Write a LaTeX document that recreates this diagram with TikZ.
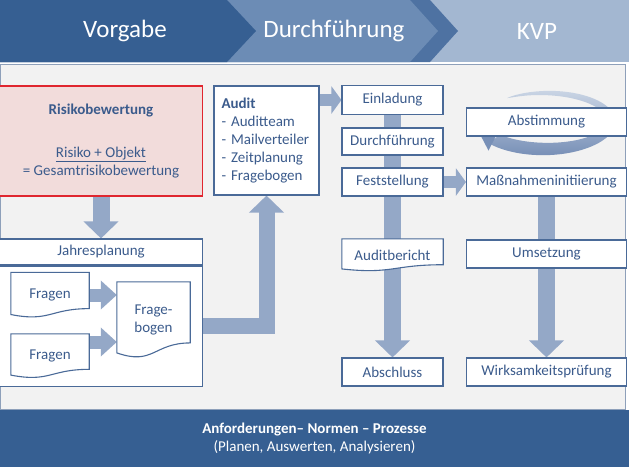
\documentclass[tikz,border=0pt]{standalone}
\usepackage{fontspec}
\setmainfont{Carlito}
\usetikzlibrary{
    arrows.meta,
    positioning,
    calc
}
\definecolor{headdark}{HTML}{365F92}
\definecolor{headmid}{HTML}{6C8CB5}
\definecolor{headband}{HTML}{4E72A2}
\definecolor{headlight}{HTML}{A3B7D1}
\definecolor{bggray}{HTML}{F2F2F2}
\definecolor{framecol}{HTML}{8EA0BA}
\definecolor{boxline}{HTML}{4A6A98}
\definecolor{textblue}{HTML}{3B5B8C}
\definecolor{arrowfill}{HTML}{94A8C7}
\definecolor{arclight}{HTML}{C9D4E4}
\definecolor{arcdark}{HTML}{7890B7}
\definecolor{riskfill}{HTML}{F2DCDB}
\definecolor{riskline}{HTML}{E0262F}

\pgfdeclarelayer{back}
\pgfdeclarelayer{arrows}
\pgfdeclarelayer{docs}
\pgfsetlayers{back,arrows,docs,main}

\tikzset{
    % Text
    head text/.style={text=white,font=\fontsize{25}{30}\selectfont},
    %
    % Boxes
    box/.style={draw=boxline,fill=white,line width=1.1pt,text=textblue,inner sep=0pt,minimum height=28pt},
    rbox/.style={box,minimum width=160pt},
    cbox/.style={box,minimum width=101pt},
    riskbox/.style={draw=riskline,fill=riskfill,line width=1.3pt,text=textblue,align=center,inner sep=0pt,minimum width=203pt,minimum height=110pt},
    docnode/.style={text=textblue,inner sep=0pt,align=center},
    docline/.style={draw=boxline,fill=white,line width=1.1pt},
    %
    % Arrows
    bigarr/.style={arrowfill,line width=17pt,-{Triangle[length=17pt,width=34pt]}},
    midarr/.style={arrowfill,line width=13pt,-{Triangle[length=16pt,width=28pt]}},
    smallarr/.style={arrowfill,line width=12pt,-{Triangle[length=10pt,width=27pt]}}
}
\tikzstyle{every node}=[font=\fontsize{15}{18}\selectfont]

% document shape round a node
\newcommand{\docshape}[1]{%
    \draw[docline] (#1.north west) -- (#1.north east) -- ($(#1.north east)!.80!(#1.south east)$)
        .. controls ($(#1.north)!.80!(#1.south)$) and ($(#1.north)!1.10!(#1.south)$) .. ($(#1.north west)!.93!(#1.south west)$) -- cycle;}

\begin{document}
\begin{tikzpicture}[x=1pt,y=-1pt]
    \useasboundingbox (0,0) rectangle (629,467);

    \begin{pgfonlayer}{back}
        \fill[white] (0,0) rectangle (629,467);
        \fill[headlight] (0,0) rectangle (629,62);
        \fill[headband] (0,0) -- (430,0) -- (458,31) -- (430,62) -- (0,62) -- cycle;
        \fill[headmid] (0,0) -- (410,0) -- (438,31) -- (410,62) -- (0,62) -- cycle;
        \fill[headdark] (0,0) -- (227,0) -- (256,31) -- (227,62) -- (0,62) -- cycle;
        \draw[fill=bggray,draw=framecol,thin] (0.5,64) rectangle (625,409);
        \fill[headdark] (0,410) rectangle (629,467);
    \end{pgfonlayer}

    \node[head text] (vorgabe) at (125,31) {Vorgabe};
    \node[head text] (durch) at (334,31) {Durchführung};
    \node[head text] (kvp) at (537,31) {KVP};

    % Vorgabe
    \node[riskbox] (risk) at (101,141) {\textbf{Risikobewertung}\\[25pt]\underline{Risiko + Objekt}\\= Gesamtrisikobewertung};
    \node[box,minimum width=203pt,minimum height=26pt] (jahr) at (101,252) {Jahresplanung};
    \begin{pgfonlayer}{back}
        \node[box,minimum width=203pt,minimum height=120pt,below=0pt of jahr] (fbox) {};
    \end{pgfonlayer}
    \node[docnode,minimum width=78pt,minimum height=45pt] (f1) at (50,295) {Fragen};
    \node[docnode,minimum width=78pt,minimum height=44pt] (f2) at (50,356) {Fragen};
    \node[docnode,minimum width=73pt,minimum height=76pt] (fb) at (153.5,320) {Frage-\\bogen};
    \node[box,minimum width=105pt,minimum height=109pt,text width=90pt,align=left] (audit) at (266.5,140.5)
        {\textbf{Audit}\\- Auditteam\\- Mailverteiler\\- Zeitplanung\\- Fragebogen};

    % Durchfuehrung
    \node[cbox,minimum height=29pt] (ein) at (392.5,100) {Einladung};
    \node[cbox,minimum height=27pt] (df) at (392.5,141.5) {Durchführung};
    \node[cbox] (fest) at (392.5,182) {Feststellung};
    \node[docnode,minimum width=101pt,minimum height=32pt] (ab) at (392.5,255) {Auditbericht};
    \node[cbox] (absch) at (392.5,372) {Abschluss};

    % KVP
    \node[rbox] (abst) at (546.5,122) {Abstimmung};
    \node[rbox] (mass) at (546.5,182) {Maßnahmeninitiierung};
    \node[rbox] (ums) at (546.5,254) {Umsetzung};
    \node[rbox] (wirk) at (546.5,372) {Wirksamkeitsprüfung};

    \node[text=white,align=center] (req) at (314.5,438) {\textbf{Anforderungen– Normen – Prozesse}\\(Planen, Auswerten, Analysieren)};

    \begin{pgfonlayer}{docs}
        \docshape{f1}
        \docshape{f2}
        \docshape{fb}
        \docshape{ab}
    \end{pgfonlayer}

    \begin{pgfonlayer}{arrows}
        \draw[bigarr] (risk.south) -- (jahr.north);
        \draw[midarr] (f1.east) -- (f1.east -| fb.west);
        \coordinate (f2out) at ($(f2.east)+(0,-14)$);
        \draw[midarr] (f2out) -- (f2out -| fb.west);
        \coordinate (bend) at (audit.south |- fbox.east);
        \draw[bigarr,line width=16pt] (fbox.east) -- (bend) -- (audit.south);
        \draw[smallarr] (audit.east |- ein.west) -- (ein.west);
        \draw[bigarr] (ein.south) -- (absch.north);
        \draw[smallarr] (fest.east) -- (mass.west);
        \draw[bigarr] (mass.south) -- (wirk.north);
        % turning arrow round Abstimmung
        \shade[top color=arclight,bottom color=arcdark]
            plot[domain=235:500,samples=60,variable=\t] ({545+(66+7*((\t-235)/265)^0.6)*cos(\t)},{121+(28+7*((\t-235)/265)^0.6)*sin(\t)})
            -- plot[domain=500:235,samples=60,variable=\t] ({545+(66-7*((\t-235)/265)^0.6)*cos(\t)},{121+(28-7*((\t-235)/265)^0.6)*sin(\t)})
            -- cycle;
        \fill[arcdark] (500.3,127.4) -- (478.3,130.9) -- (488.5,150.6) -- cycle;
    \end{pgfonlayer}
\end{tikzpicture}
\end{document}
